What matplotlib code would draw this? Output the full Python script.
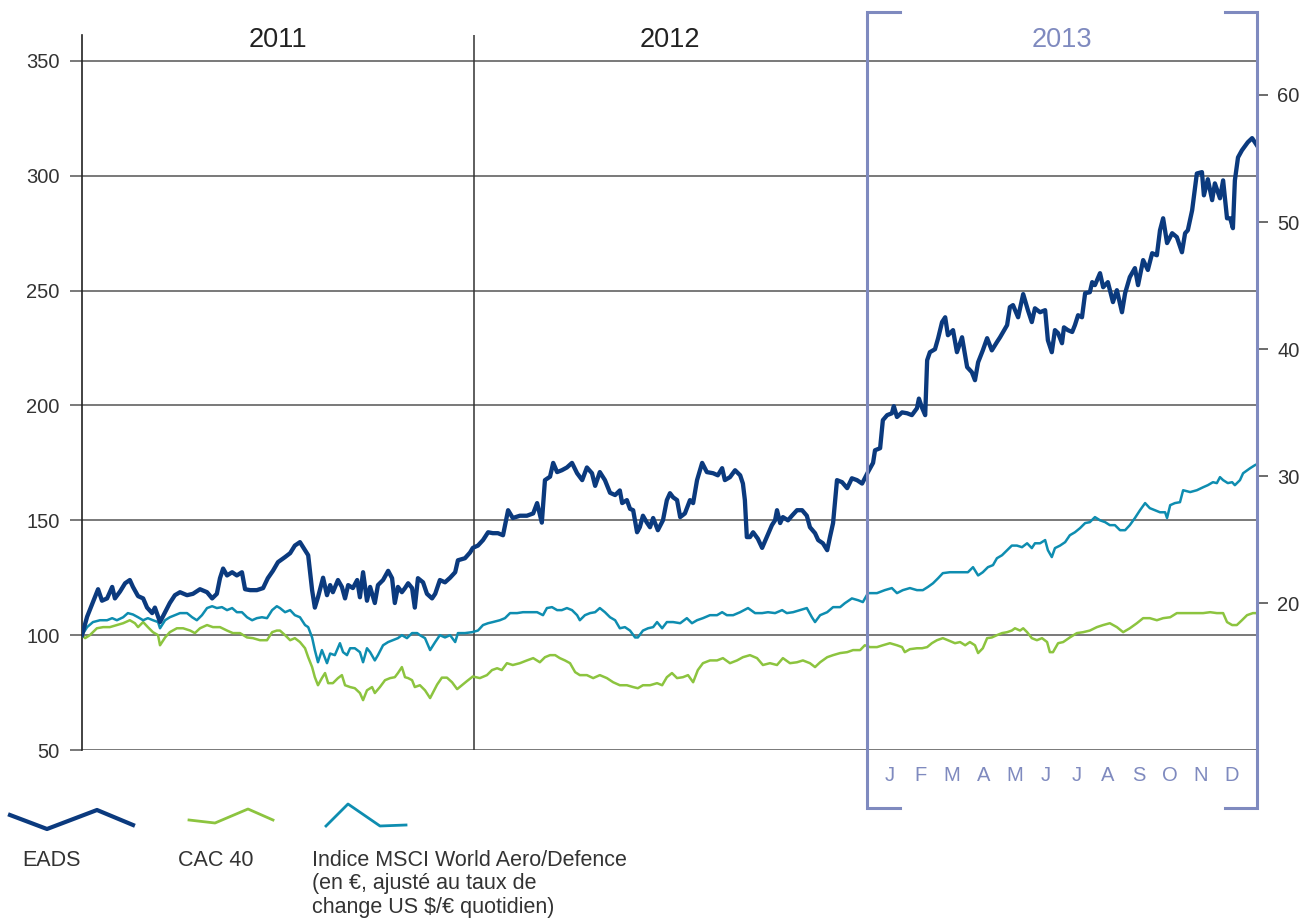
import matplotlib.pyplot as plt
from matplotlib.lines import Line2D
import numpy as np

plt.rcParams['font.family'] = ['Liberation Sans', 'DejaVu Sans']

# temps en annees depuis le 1er janvier 2011, valeurs en base 100
eads_t = [0.000, 0.013, 0.033, 0.041, 0.051, 0.064, 0.077, 0.084, 0.097, 0.110,
          0.122, 0.130, 0.143, 0.156, 0.166, 0.179, 0.186, 0.199, 0.212, 0.224,
          0.237, 0.250, 0.268, 0.283, 0.301, 0.319, 0.332, 0.344, 0.352, 0.360,
          0.370, 0.383, 0.395, 0.408, 0.416, 0.429, 0.446, 0.462, 0.474, 0.487,
          0.500, 0.518, 0.531, 0.543, 0.556, 0.569, 0.577, 0.587, 0.594, 0.602,
          0.615, 0.625, 0.633, 0.640, 0.653, 0.663, 0.671, 0.679, 0.691, 0.702,
          0.709, 0.717, 0.727, 0.735, 0.747, 0.755, 0.768, 0.781, 0.791, 0.798,
          0.806, 0.816, 0.824, 0.832, 0.842, 0.849, 0.857, 0.870, 0.880, 0.893,
          0.901, 0.913, 0.926, 0.939, 0.952, 0.959, 0.977, 0.990, 0.997,
          1.010, 1.023, 1.036, 1.048, 1.061, 1.074, 1.087, 1.099, 1.117, 1.135,
          1.151, 1.161, 1.173, 1.181, 1.194, 1.202, 1.212, 1.224, 1.237, 1.250,
          1.263, 1.276, 1.288, 1.301, 1.309, 1.321, 1.334, 1.347, 1.360, 1.372,
          1.378, 1.390, 1.398, 1.406, 1.416, 1.423, 1.431, 1.441, 1.449, 1.457,
          1.469, 1.482, 1.492, 1.500, 1.508, 1.518, 1.526, 1.538, 1.551, 1.559,
          1.569, 1.582, 1.594, 1.610, 1.622, 1.633, 1.640, 1.653, 1.666, 1.679,
          1.686, 1.691, 1.696, 1.704, 1.712, 1.724, 1.735, 1.747, 1.760, 1.768,
          1.773, 1.781, 1.788, 1.801, 1.811, 1.824, 1.837, 1.849, 1.857, 1.870,
          1.878, 1.890, 1.901, 1.908, 1.916, 1.926, 1.939, 1.952, 1.964, 1.977,
          1.990,
          2.005, 2.018, 2.023, 2.036, 2.043, 2.054, 2.066, 2.071, 2.079, 2.092,
          2.105, 2.117, 2.130, 2.135, 2.143, 2.151, 2.156, 2.163, 2.176, 2.184,
          2.194, 2.202, 2.209, 2.222, 2.232, 2.245, 2.258, 2.270, 2.278, 2.286,
          2.298, 2.309, 2.321, 2.334, 2.342, 2.360, 2.367, 2.375, 2.388, 2.401,
          2.413, 2.423, 2.431, 2.444, 2.457, 2.464, 2.474, 2.482, 2.490, 2.500,
          2.505, 2.515, 2.526, 2.533, 2.541, 2.551, 2.559, 2.571, 2.577, 2.584,
          2.597, 2.605, 2.617, 2.630, 2.640, 2.653, 2.661, 2.673, 2.686, 2.694,
          2.707, 2.719, 2.730, 2.742, 2.750, 2.758, 2.768, 2.781, 2.793, 2.806,
          2.814, 2.821, 2.832, 2.844, 2.857, 2.862, 2.872, 2.883, 2.890, 2.903,
          2.911, 2.921, 2.929, 2.936, 2.941, 2.949, 2.959, 2.974, 2.985, 2.997]
eads_v = [100, 108, 116.5, 120, 115, 116, 121, 116, 119, 122.6,
          124, 121, 117, 116, 112, 109.6, 112, 105.7, 110, 114,
          117.4, 118.7, 117.4, 118, 120, 118.7, 116, 118, 124.8, 129,
          126, 127.4, 126, 127.4, 120, 119.6, 119.6, 120.5, 124.8, 128,
          131.8, 134, 135.7, 139, 140.5, 137, 134.8, 119.6, 112, 116.5,
          125, 117.4, 121.8, 118.7, 124, 121, 116, 121.8, 120.5, 124,
          116.5, 127.4, 115, 121, 114, 121.8, 124, 128, 124.8, 114,
          121, 118.7, 120.5, 122.6, 120.5, 112, 124.8, 123, 118, 116,
          118, 124, 123, 125, 127.4, 132.6, 133.5, 136, 138,
          139, 141.4, 144.8, 144.4, 144.4, 143.5, 154.4, 151, 152, 152,
          153, 157.5, 149, 167.5, 169, 175, 171, 171.8, 173, 175,
          170.5, 167.5, 173, 170.5, 165, 171, 167.5, 162, 161, 163,
          157.5, 158.8, 155, 154.4, 144.8, 147, 152, 149, 147, 151,
          145.7, 150, 158.8, 161.8, 160, 158.8, 151.4, 153, 158.8, 157.5,
          167.5, 175, 171, 170.5, 169.6, 172.7, 167.5, 168.8, 171.8, 169.6,
          166, 158.8, 142.7, 142.7, 144.8, 142, 138, 142.7, 147.9, 150,
          154.4, 148.8, 151.4, 150, 152, 154.4, 154.4, 152, 147, 144.4,
          141.4, 140, 137, 142.7, 148.8, 167.5, 166.6, 164, 168.3, 167.5,
          166,
          171, 175, 180.5, 181.4, 193.6, 195.8, 196.6, 199.7, 195, 197,
          196.6, 195.8, 198.8, 203, 199, 195.8, 219.7, 223.2, 224.5, 229.3,
          236.3, 238.4, 230.6, 232.8, 223.2, 229.7, 216.7, 214.5, 211, 218.8,
          224, 229.3, 224, 227.6, 229.7, 235, 242.8, 243.7, 238.4, 248.5,
          241.5, 236.3, 242.3, 240.6, 241.5, 228.4, 223.2, 232.8, 231.5, 227.1,
          234, 232.8, 232, 235, 239.3, 238.4, 248.9, 249.3, 253.7, 252.4,
          257.6, 251.5, 253.7, 245, 250.2, 240.6, 248.9, 255.9, 259.8, 252.4,
          263.3, 259, 266.3, 265.4, 276.3, 281.5, 270.7, 275, 273.3, 266.7,
          275, 276.3, 285, 301, 301.6, 291.5, 298.5, 289.4, 296.7, 290.2,
          298, 281.5, 281.5, 277.2, 298, 308, 311.1, 314.6, 316.4, 313.3]

msci_t = [0.000, 0.013, 0.028, 0.046, 0.064, 0.077, 0.089, 0.105, 0.117, 0.130,
          0.143, 0.156, 0.168, 0.181, 0.194, 0.199, 0.212, 0.224, 0.237, 0.250,
          0.268, 0.281, 0.293, 0.306, 0.319, 0.332, 0.344, 0.357, 0.370, 0.383,
          0.395, 0.408, 0.421, 0.434, 0.446, 0.459, 0.472, 0.485, 0.497, 0.505,
          0.518, 0.531, 0.543, 0.556, 0.569, 0.577, 0.587, 0.594, 0.602, 0.612,
          0.625, 0.633, 0.645, 0.658, 0.666, 0.676, 0.684, 0.696, 0.709, 0.717,
          0.727, 0.735, 0.747, 0.755, 0.768, 0.781, 0.793, 0.806, 0.816, 0.829,
          0.842, 0.855, 0.862, 0.875, 0.888, 0.901, 0.913, 0.926, 0.939, 0.952,
          0.959, 0.977, 0.995,
          1.010, 1.023, 1.036, 1.048, 1.066, 1.079, 1.092, 1.110, 1.125, 1.143,
          1.161, 1.176, 1.186, 1.199, 1.212, 1.224, 1.237, 1.250, 1.263, 1.270,
          1.283, 1.296, 1.309, 1.321, 1.334, 1.347, 1.360, 1.372, 1.385, 1.398,
          1.411, 1.418, 1.431, 1.444, 1.457, 1.467, 1.480, 1.492, 1.508, 1.526,
          1.543, 1.556, 1.569, 1.584, 1.602, 1.620, 1.633, 1.645, 1.661, 1.679,
          1.699, 1.717, 1.735, 1.750, 1.768, 1.786, 1.798, 1.814, 1.832, 1.849,
          1.862, 1.870, 1.883, 1.901, 1.916, 1.934, 1.946, 1.964, 1.980, 1.992,
          2.005, 2.028, 2.048, 2.066, 2.079, 2.094, 2.112, 2.130, 2.145, 2.158,
          2.171, 2.184, 2.196, 2.214, 2.240, 2.260, 2.273, 2.286, 2.298, 2.311,
          2.324, 2.334, 2.347, 2.360, 2.372, 2.385, 2.398, 2.411, 2.423, 2.431,
          2.444, 2.457, 2.464, 2.474, 2.482, 2.495, 2.508, 2.520, 2.533, 2.546,
          2.559, 2.571, 2.584, 2.597, 2.610, 2.622, 2.635, 2.648, 2.661, 2.673,
          2.686, 2.699, 2.712, 2.724, 2.737, 2.750, 2.763, 2.768, 2.776, 2.788,
          2.801, 2.809, 2.827, 2.844, 2.860, 2.872, 2.885, 2.895, 2.903, 2.911,
          2.923, 2.934, 2.941, 2.954, 2.962, 2.980, 2.992, 2.997]
msci_v = [100, 103.5, 105.7, 106.5, 106.5, 107.4, 106.5, 107.8, 109.6, 109,
          107.8, 106.5, 107.4, 106.5, 105.7, 103, 106.5, 107.8, 108.7, 109.6,
          109.6, 107.8, 106.5, 108.7, 111.8, 112.6, 111.8, 112.2, 110.9, 111.8,
          110, 110, 107.8, 106.5, 107.4, 107.8, 107.4, 110.9, 112.6, 111.8,
          110, 110.9, 108.7, 107.8, 104.4, 103.5, 99, 93.5, 88.2, 93.5,
          87.8, 92, 91.3, 96.5, 92.6, 91.3, 94.3, 94.3, 92.6, 88.2,
          94.3, 92.6, 89, 91.3, 95.6, 97, 97.8, 98.7, 100, 98.7,
          100.9, 100.9, 100, 98.7, 93.5, 97, 100, 99, 100, 97,
          100.9, 100.9, 101.3,
          102, 104.4, 105.2, 105.7, 106.5, 107.4, 109.6, 109.6, 110, 110,
          110, 108.7, 111.8, 112.2, 110.9, 110.9, 111.8, 110.9, 108.7, 106.5,
          108.7, 109.6, 110, 111.8, 110, 107.8, 106.5, 103, 103.5, 102,
          99, 99, 102, 103, 103.5, 105.7, 103, 105.7, 105.7, 105.2,
          107.4, 105.2, 106.5, 107.4, 108.7, 108.7, 110, 108.7, 108.7, 110,
          111.8, 109.6, 109.6, 110, 109.6, 110.9, 109.6, 110, 110.9, 111.8,
          107.8, 105.7, 108.7, 110, 112.2, 112.2, 113.9, 116, 115.2, 114.4,
          118.3, 118.3, 119.6, 120.5, 118.3, 119.6, 120.5, 119.6, 119.6, 121,
          122.6, 124.8, 127, 127.4, 127.4, 127.4, 129.6, 126, 127.4, 129.6,
          130.5, 133.5, 134.8, 137, 139, 139, 138.3, 140, 137.9, 140,
          140, 141.4, 137, 134, 137.9, 139, 140.5, 143.5, 144.8, 146.6,
          148.8, 149.2, 151.4, 150, 149.2, 147.9, 147.9, 145.7, 145.7, 147.9,
          151, 154.4, 157.5, 155.3, 154.4, 153.5, 153.5, 151, 156.6, 157.5,
          157.9, 163.1, 162.3, 163.1, 164.4, 165.3, 166.6, 166.2, 168.8, 167.5,
          166.2, 166.6, 165.3, 167.5, 170.5, 172.7, 174, 174.4]

cac_t = [0.000, 0.008, 0.020, 0.038, 0.054, 0.071, 0.089, 0.105, 0.122, 0.135,
         0.143, 0.156, 0.168, 0.181, 0.194, 0.199, 0.212, 0.224, 0.242, 0.258,
         0.276, 0.288, 0.301, 0.319, 0.334, 0.352, 0.370, 0.385, 0.403, 0.421,
         0.436, 0.454, 0.472, 0.485, 0.497, 0.505, 0.518, 0.531, 0.543, 0.556,
         0.569, 0.577, 0.587, 0.594, 0.602, 0.612, 0.620, 0.628, 0.640, 0.653,
         0.663, 0.671, 0.684, 0.696, 0.709, 0.717, 0.727, 0.740, 0.747, 0.760,
         0.773, 0.786, 0.798, 0.806, 0.816, 0.824, 0.832, 0.842, 0.849, 0.862,
         0.875, 0.888, 0.906, 0.918, 0.931, 0.944, 0.957, 0.969, 0.982, 0.997,
         1.015, 1.033, 1.046, 1.059, 1.071, 1.084, 1.099, 1.117, 1.135, 1.151,
         1.168, 1.181, 1.194, 1.207, 1.219, 1.232, 1.245, 1.258, 1.270, 1.288,
         1.304, 1.321, 1.339, 1.355, 1.372, 1.390, 1.406, 1.418, 1.431, 1.449,
         1.467, 1.480, 1.492, 1.505, 1.518, 1.533, 1.546, 1.559, 1.571, 1.584,
         1.602, 1.620, 1.635, 1.653, 1.671, 1.686, 1.704, 1.722, 1.737, 1.755,
         1.773, 1.788, 1.806, 1.824, 1.839, 1.857, 1.870, 1.883, 1.901, 1.916,
         1.934, 1.952, 1.967, 1.985, 1.997,
         2.010, 2.028, 2.043, 2.061, 2.079, 2.092, 2.099, 2.112, 2.130, 2.143,
         2.156, 2.168, 2.181, 2.196, 2.209, 2.227, 2.240, 2.253, 2.265, 2.278,
         2.286, 2.298, 2.309, 2.321, 2.334, 2.347, 2.360, 2.372, 2.380, 2.393,
         2.401, 2.411, 2.423, 2.436, 2.449, 2.462, 2.469, 2.477, 2.490, 2.503,
         2.520, 2.538, 2.554, 2.571, 2.589, 2.605, 2.622, 2.640, 2.656, 2.673,
         2.691, 2.707, 2.724, 2.742, 2.758, 2.776, 2.793, 2.809, 2.827, 2.844,
         2.860, 2.878, 2.895, 2.911, 2.921, 2.934, 2.946, 2.959, 2.972, 2.987,
         2.997]
cac_v = [100, 98.7, 100, 103, 103.5, 103.5, 104.4, 105.2, 106.5, 105.2,
         103.5, 105.7, 103.5, 101.3, 100, 95.6, 99, 101.3, 103, 103,
         102, 100.9, 103, 104.4, 103.5, 103.5, 102, 100.9, 100.9, 99,
         98.7, 97.8, 97.8, 101.3, 102, 102, 100, 97.8, 98.7, 97,
         94.3, 90.4, 86.1, 81.7, 78.2, 81.3, 83.5, 79.1, 79.1, 81.3,
         82.6, 78.2, 77.4, 76.9, 74.8, 71.7, 76, 77.4, 74.8, 77.4,
         80.4, 81.3, 81.7, 83.5, 86.1, 81.7, 81.3, 80.4, 77.4, 78.2,
         76, 72.6, 78.5, 81.5, 81.5, 79.5, 76.5, 78.2, 80, 82,
         81.3, 82.6, 84.8, 85.6, 84.8, 87.8, 87, 87.8, 89, 90,
         88.2, 90.4, 91.3, 91.3, 90, 89, 87.8, 83.9, 82.6, 82.6,
         81.3, 82.6, 81.3, 79.5, 78.2, 78.2, 77.4, 76.9, 78.2, 78.2,
         79.1, 78.2, 81.7, 83.5, 81.3, 81.7, 82.6, 79.5, 84.8, 87.8,
         89, 89, 90, 87.8, 89, 90.4, 91.3, 90, 87, 87.8,
         87, 90, 87.8, 88.2, 89, 87.8, 86.1, 88.2, 90.4, 91.3,
         92.2, 92.6, 93.5, 93.5, 95.6,
         94.8, 94.8, 95.6, 96.5, 95.6, 94.8, 92.6, 93.9, 94.3, 94.3,
         94.8, 96.5, 97.8, 98.7, 97.8, 96.5, 97, 95.6, 97, 95.6,
         92.2, 94.3, 98.7, 99, 100, 100.9, 101.3, 102, 103, 102,
         103, 101.3, 98.7, 97.8, 98.7, 97, 92.6, 92.6, 96.5, 97,
         99, 100.9, 101.3, 102, 103.5, 104.4, 105.2, 103.5, 101.3, 103,
         105.2, 107.4, 107.4, 106.5, 107.4, 107.8, 109.6, 109.6, 109.6, 109.6,
         109.6, 110, 109.6, 109.6, 105.7, 104.4, 104.4, 106.5, 108.7, 109.6,
         109.6]

annees = ['2011', '2012', '2013']
mois = ['J', 'F', 'M', 'A', 'M', 'J', 'J', 'A', 'S', 'O', 'N', 'D']
ticks_gauche = [50, 100, 150, 200, 250, 300, 350]
ticks_droite = [20, 30, 40, 50, 60]
legende_msci = ['Indice MSCI World Aero/Defence',
                '(en €, ajusté au taux de',
                'change US $/€ quotidien)']

c_eads = '#0b3a7e'
c_cac = '#8cc43f'
c_msci = '#0e8db0'
c_cadre = '#7f8abf'
c_grille = '#555555'
c_texte = '#333333'

W, H = 1305, 919
fig = plt.figure(figsize=(W / 100, H / 100), dpi=100)
ax = fig.add_axes([82 / W, 169 / H, 1176 / W, 715 / H])

ax.plot(2011 + np.array(cac_t), cac_v, color=c_cac, lw=1.8, zorder=3)
ax.plot(2011 + np.array(msci_t), msci_v, color=c_msci, lw=1.8, zorder=3)
ax.plot(2011 + np.array(eads_t), eads_v, color=c_eads, lw=3.1, zorder=4)

ax.set_xlim(2011, 2014)
ax.set_ylim(50, 361.3)
ax.set_xticks([])
ax.set_yticks(ticks_gauche)
ax.yaxis.grid(True, color=c_grille, lw=1.1)
ax.set_axisbelow(True)
ax.tick_params(axis='y', length=9, width=1.1, color=c_grille, pad=7,
               labelsize=14.5, labelcolor=c_texte)
for s in ['top', 'right', 'bottom']:
    ax.spines[s].set_visible(False)
ax.spines['left'].set_color('#222222')
ax.spines['left'].set_linewidth(1.2)
ax.axvline(2012, color='#333333', lw=1.1, zorder=1)

# axe de droite (cours de l'action en euros)
ax2 = ax.twinx()
ax2.set_ylim(8.47, 64.72)
ax2.set_yticks(ticks_droite)
ax2.tick_params(axis='y', length=7, width=1.1, color='#444444', pad=7,
                labelsize=14.5, labelcolor=c_texte)
for s in ax2.spines.values():
    s.set_visible(False)

# annees
for i, a in enumerate(annees):
    ax.text(2011.5 + i, 359.1, a, ha='center', va='center', fontsize=19.5,
            color=c_cadre if a == '2013' else '#222222', clip_on=False)

# mois 2013
for i, m in enumerate(mois):
    ax.text(2013.061 + i * 0.0793, 39.1, m, ha='center', va='center',
            fontsize=14.5, color=c_cadre, clip_on=False)

# cadre 2013
def fig_line(xs, ys, **kw):
    fig.add_artist(Line2D(np.array(xs) / W, 1 - np.array(ys) / H, **kw))

fig_line([900, 867, 867, 900], [12, 12, 808, 808], color=c_cadre, lw=2.2,
         solid_joinstyle='miter')
fig_line([1225, 1257, 1257, 1225], [12, 12, 808, 808], color=c_cadre, lw=2.2,
         solid_joinstyle='miter')

# legende
fig_line([10, 47, 97, 133], [815, 829, 810, 825], color=c_eads, lw=3)
fig_line([189, 215, 248, 273], [820, 823, 809, 820], color=c_cac, lw=2)
fig_line([326, 348, 380, 406], [826, 804, 826, 825], color=c_msci, lw=2)
fig.text(22 / W, 1 - 860 / H, 'EADS', fontsize=15.5, color=c_texte, va='center')
fig.text(178 / W, 1 - 860 / H, 'CAC 40', fontsize=15.5, color=c_texte, va='center')
for i, ligne in enumerate(legende_msci):
    fig.text(312 / W, 1 - (860 + 24 * i) / H, ligne, fontsize=15.5,
             color=c_texte, va='center')

fig.savefig('out.png', dpi=100)
